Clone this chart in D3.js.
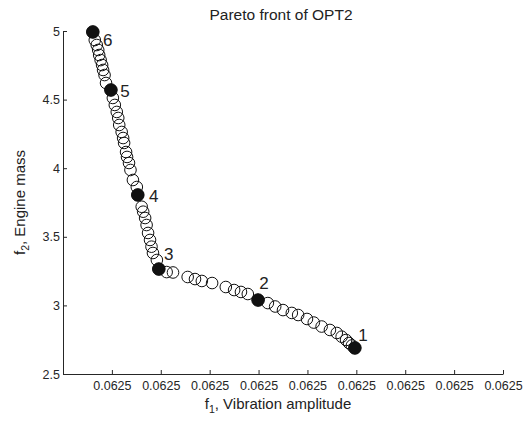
<!DOCTYPE html>
<html>
<head>
<meta charset="utf-8">
<script src="https://cdn.jsdelivr.net/npm/d3@7"></script>
<style>
  body { margin: 0; background: #fff; }
  text { font-family: "Liberation Sans", Arial, sans-serif; }
</style>
</head>
<body>
<div id="main"></div>
<script>
const layout = {
    width: 523,
    height: 424,
    marginLeft: 63,
    marginTop: 31,
    chartWidth: 440,
    chartHeight: 343
};

// Pareto front points, f1 = vibration amplitude, f2 = engine mass
const f1 = [
    0.06249661, 0.06249665, 0.06249669, 0.06249672, 0.06249674, 0.06249677, 0.06249680, 0.06249682,
    0.06249685, 0.06249688, 0.06249698, 0.06249702, 0.06249706, 0.06249710, 0.06249713, 0.06249715,
    0.06249720, 0.06249723, 0.06249725, 0.06249729, 0.06249731, 0.06249735, 0.06249738, 0.06249743,
    0.06249751, 0.06249753, 0.06249761, 0.06249764, 0.06249768, 0.06249771, 0.06249774, 0.06249778,
    0.06249781, 0.06249784, 0.06249792, 0.06249796, 0.06249812, 0.06249825, 0.06249855, 0.06249870,
    0.06249884, 0.06249905, 0.06249933, 0.06249950, 0.06249964, 0.06249978, 0.06249999, 0.06250019,
    0.06250034, 0.06250050, 0.06250068, 0.06250081, 0.06250099, 0.06250113, 0.06250129, 0.06250146,
    0.06250160, 0.06250170, 0.06250179, 0.06250185, 0.06250191, 0.06250197
];
const f2 = [
    4.993, 4.934, 4.898, 4.862, 4.825, 4.788, 4.752, 4.716,
    4.679, 4.621, 4.570, 4.512, 4.461, 4.410, 4.366, 4.315,
    4.264, 4.220, 4.184, 4.118, 4.082, 4.038, 3.987, 3.914,
    3.863, 3.805, 3.719, 3.683, 3.637, 3.586, 3.528, 3.477,
    3.428, 3.382, 3.331, 3.265, 3.243, 3.240, 3.207, 3.192,
    3.178, 3.163, 3.134, 3.112, 3.098, 3.083, 3.039, 3.017,
    2.992, 2.966, 2.945, 2.930, 2.901, 2.875, 2.846, 2.821,
    2.799, 2.772, 2.748, 2.726, 2.708, 2.690
];

// selected solutions, highlighted with filled markers
const chosenIdx = [61, 46, 35, 25, 10, 0];
const chosenLabels = ["1", "2", "3", "4", "5", "6"];
// label offset from the marker, px
const labelShift = [[8, -13], [6, -17], [10, -15], [16, 1], [14, 1], [15, 8]];

const xDomain = [0.062496, 0.062505];
const xTicks = [0.062497, 0.062498, 0.062499, 0.062500, 0.062501, 0.062502, 0.062503, 0.062504, 0.062505];
const yDomain = [2.5, 5];
const yTicks = [2.5, 3, 3.5, 4, 4.5, 5];

const points = f1.map((x, i) => ({ x: x, y: f2[i] }));

let svg = d3.select("#main").append("svg")
    .attr("width", layout.width)
    .attr("height", layout.height);

let xScale = d3.scaleLinear().domain(xDomain).range([0, layout.chartWidth]);
let yScale = d3.scaleLinear().domain(yDomain).range([layout.chartHeight, 0]);

let plot = svg.append("g")
    .attr("transform", `translate(${layout.marginLeft},${layout.marginTop})`);

// axes, ticks pointing inwards like matlab
let xAxis = plot.append("g")
    .attr("transform", `translate(0,${layout.chartHeight})`)
    .call(d3.axisBottom(xScale).tickValues(xTicks).tickSizeInner(-4).tickSizeOuter(0)
        .tickPadding(7).tickFormat(d3.format(".4f")));
let yAxis = plot.append("g")
    .call(d3.axisLeft(yScale).tickValues(yTicks).tickSizeInner(-4).tickSizeOuter(0)
        .tickPadding(3).tickFormat(d3.format("")));

[xAxis, yAxis].forEach(ax => {
    ax.selectAll("text").attr("fill", "#262626").attr("font-size", 12.5)
        .attr("font-family", "Liberation Sans, Arial, sans-serif");
    ax.selectAll("line, .domain").attr("stroke", "#262626");
});

// all front points as open circles
plot.selectAll(".front")
    .data(points)
    .enter().append("circle")
    .attr("class", "front")
    .attr("cx", d => xScale(d.x))
    .attr("cy", d => yScale(d.y))
    .attr("r", 5.8)
    .attr("fill", "none")
    .attr("stroke", "#111")
    .attr("stroke-width", 1);

// chosen solutions
let chosen = chosenIdx.map((k, i) => ({ x: f1[k], y: f2[k], label: chosenLabels[i], shift: labelShift[i] }));

plot.selectAll(".chosen")
    .data(chosen)
    .enter().append("circle")
    .attr("class", "chosen")
    .attr("cx", d => xScale(d.x))
    .attr("cy", d => yScale(d.y))
    .attr("r", 6.3)
    .attr("fill", "#111")
    .attr("stroke", "#111");

plot.selectAll(".chosen-label")
    .data(chosen)
    .enter().append("text")
    .attr("class", "chosen-label")
    .attr("x", d => xScale(d.x) + d.shift[0])
    .attr("y", d => yScale(d.y) + d.shift[1])
    .attr("dy", "0.36em")
    .attr("text-anchor", "middle")
    .attr("font-size", 17)
    .attr("fill", "#222")
    .text(d => d.label);

// title
svg.append("text")
    .attr("x", 281)
    .attr("y", 20)
    .attr("text-anchor", "middle")
    .attr("font-size", 15.5)
    .attr("fill", "#222")
    .text("Pareto front of OPT2");

// x axis title
let xt = svg.append("text")
    .attr("x", 278)
    .attr("y", 409)
    .attr("text-anchor", "middle")
    .attr("font-size", 15)
    .attr("fill", "#222");
xt.append("tspan").text("f");
xt.append("tspan").attr("font-size", 10.5).attr("dy", 4).text("1");
xt.append("tspan").attr("dy", -4).text(", Vibration amplitude");

// y axis title
let yt = svg.append("text")
    .attr("transform", `translate(25,${layout.marginTop + layout.chartHeight / 2}) rotate(-90)`)
    .attr("text-anchor", "middle")
    .attr("font-size", 15)
    .attr("fill", "#222");
yt.append("tspan").text("f");
yt.append("tspan").attr("font-size", 10.5).attr("dy", 4).text("2");
yt.append("tspan").attr("dy", -4).text(", Engine mass");
</script>
</body>
</html>
